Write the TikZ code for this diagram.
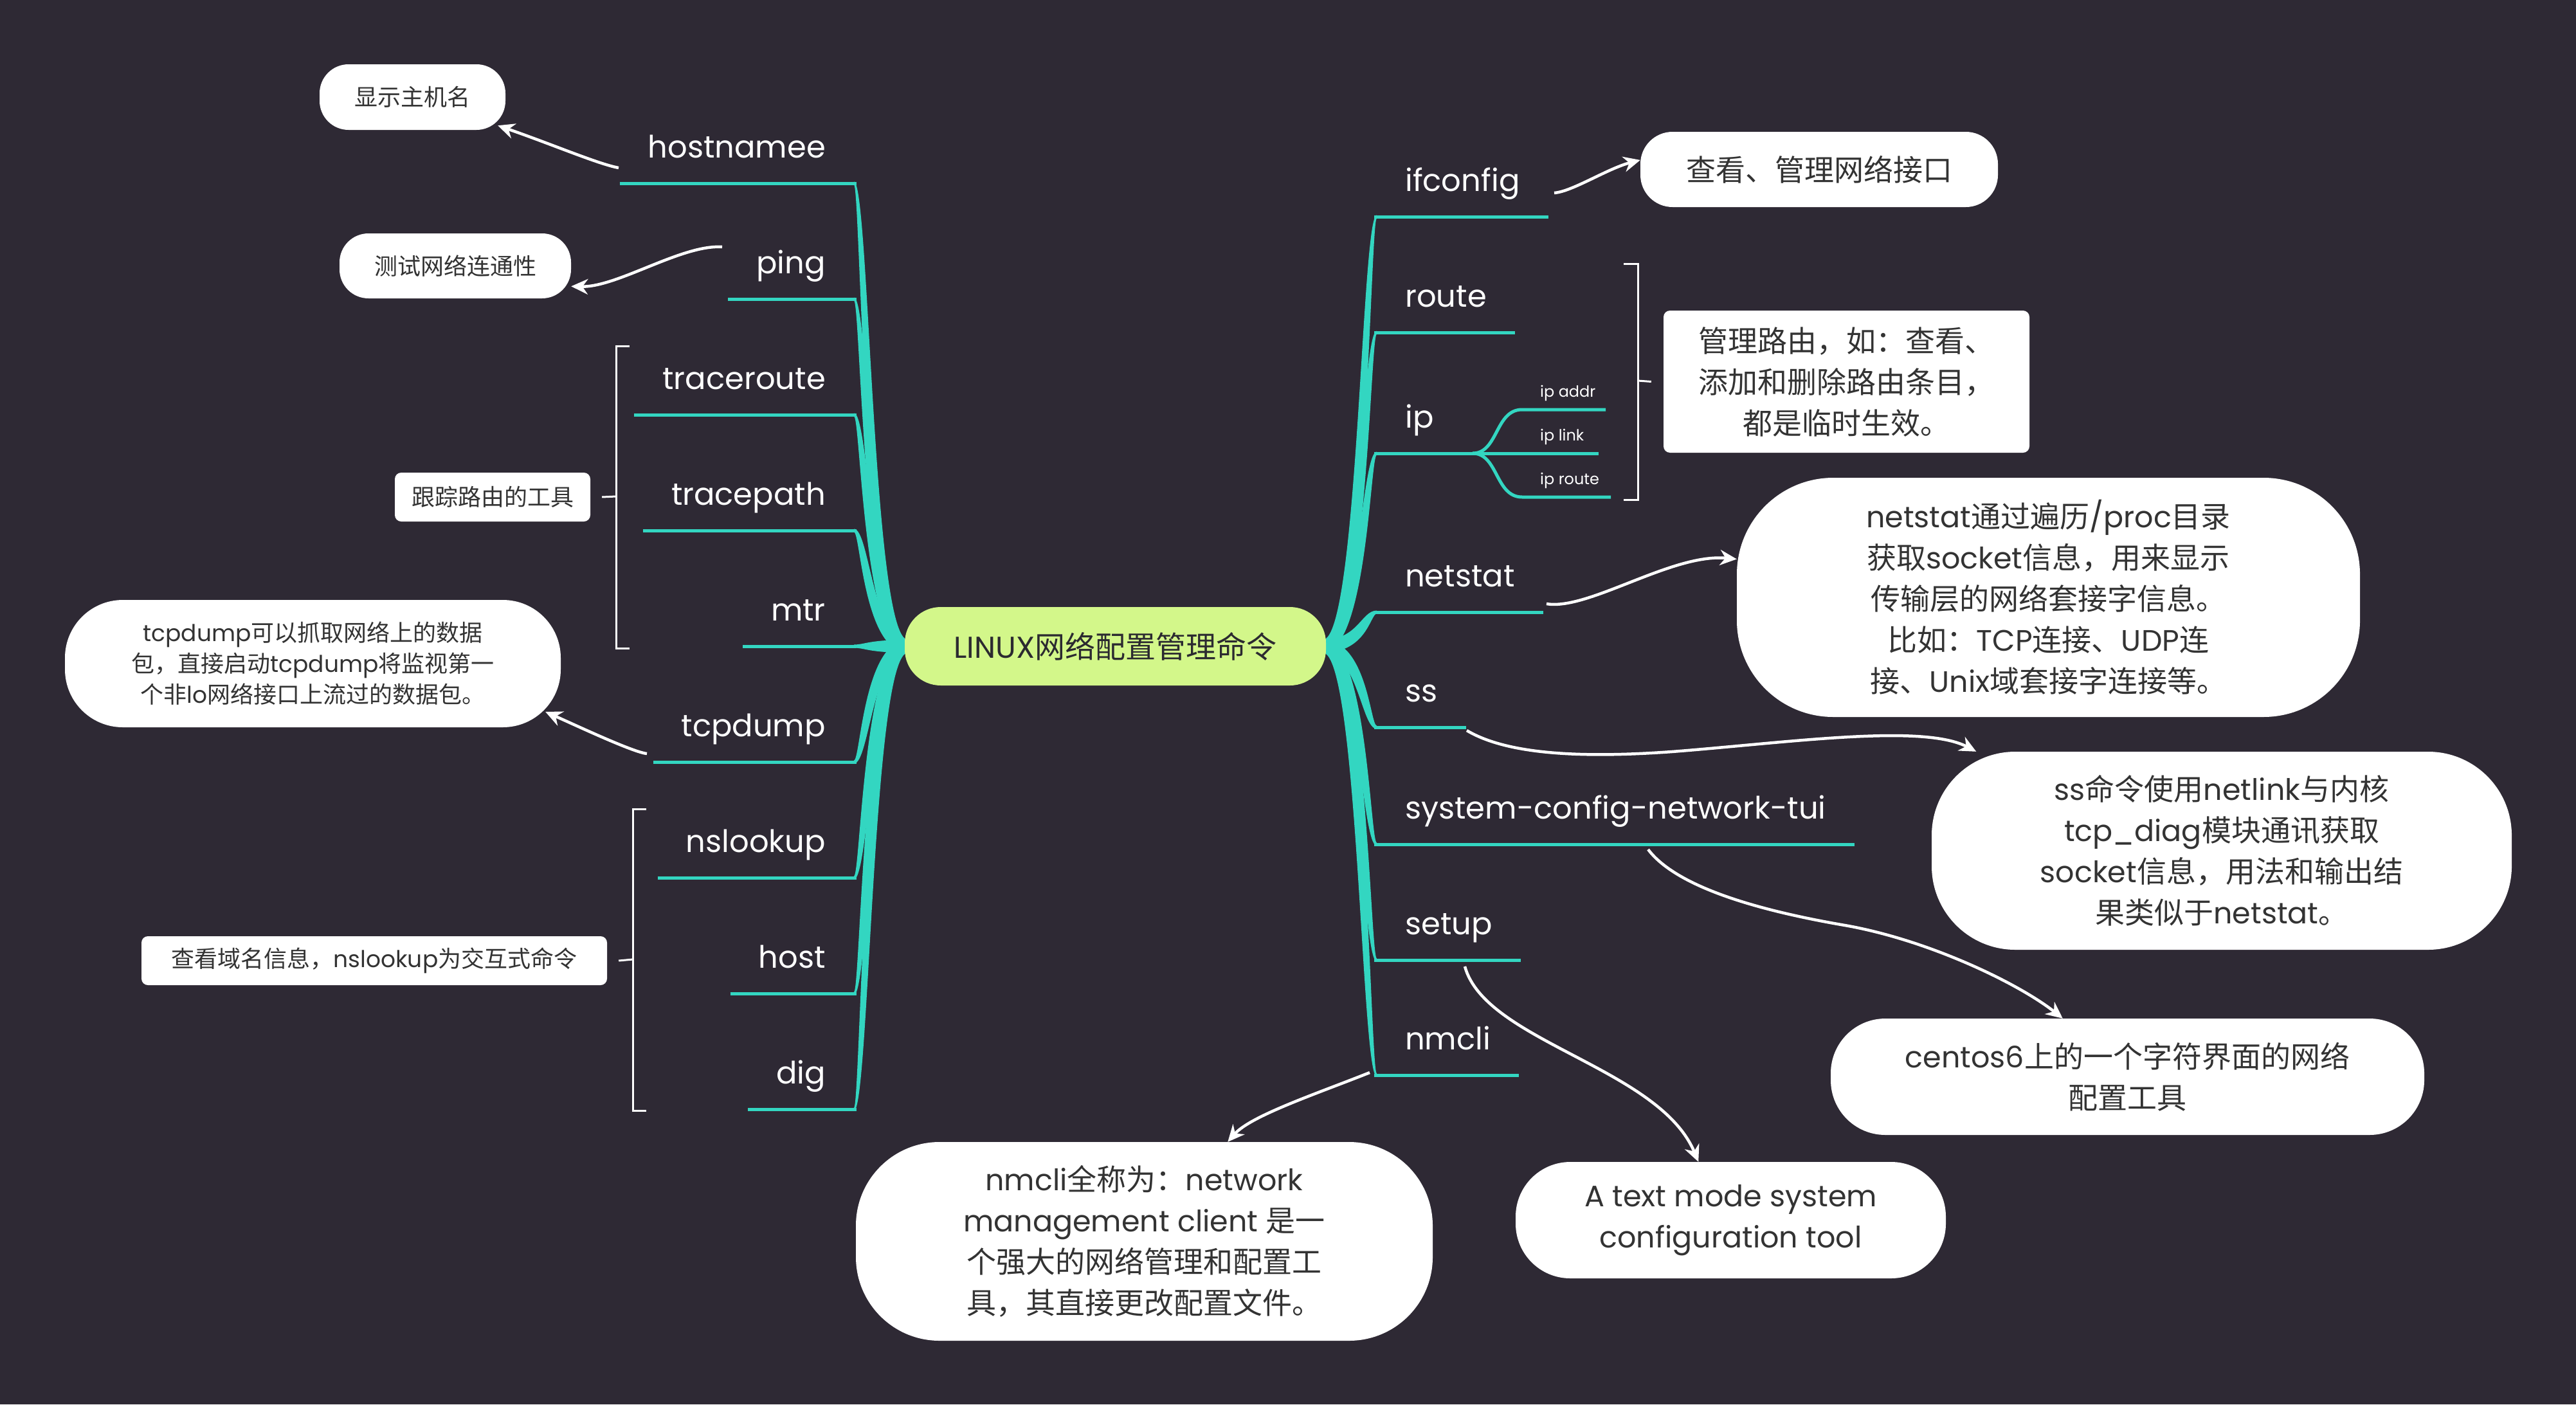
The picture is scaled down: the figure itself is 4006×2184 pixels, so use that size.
\documentclass[tikz,border=0pt]{standalone}
\usepackage{fontspec}
\setmainfont{Poppins}
\newfontfamily\cjk{Noto Sans CJK SC}
\newcommand\zh[1]{{\cjk #1}}
\usetikzlibrary{arrows.meta,calc}
\definecolor{bgdark}{HTML}{2E2934}
\definecolor{branchteal}{HTML}{33D6C1}
\definecolor{rootgreen}{HTML}{D3F78A}
\definecolor{roottext}{HTML}{2B2A30}
\definecolor{notetext}{HTML}{333333}

\begin{document}
\begin{tikzpicture}[x=1pt, y=-1pt, >={Stealth[length=26pt, width=24pt]},
  branch/.style = {fill=branchteal},
  stem/.style = {draw=branchteal, line width=5pt},
  cmd/.style = {text=white, inner sep=0pt, font=\fontsize{48}{58}\selectfont},
  subcmd/.style = {text=white, inner sep=0pt, font=\fontsize{24}{30}\selectfont},
  root/.style = {fill=rootgreen, text=roottext, rounded corners=56pt, minimum width=655pt, minimum height=122pt, inner sep=0pt, font=\fontsize{47}{54}\selectfont},
  note/.style n args = {3}{fill=white, text=notetext, align=center, inner sep=0pt, minimum width=#1pt, minimum height=#2pt, rounded corners=#3pt},
  smalltext/.style = {font=\fontsize{36}{48}\selectfont},
  bigtext/.style = {font=\fontsize{46}{64}\selectfont},
  pointer/.style = {->, draw=white, line width=4.5pt},
  bracket/.style = {draw=white, line width=3pt}]
\fill[bgdark] (0,0) rectangle (4006,2184);
\useasboundingbox (0,0) rectangle (4006,2184);

% left branches
\foreach \y/\d/\name/\txt in {285/7/hostnamee/hostnamee, 465/7/ping/ping, 645/7/traceroute/traceroute, 825/7/tracepath/tracepath, 1005/0/mtr/mtr, 1185/-7/tcpdump/tcpdump, 1365/-7/nslookup/nslookup, 1545/-7/host/host, 1725/-7/dig/dig}{
  \node[cmd, anchor=base east] (\name) at (1284,\y-40) {\txt};
  \draw[stem] ($(\name.base west)+(-44,40)$) -- (1332,\y);
  \fill[branch] (1328,\y-2.5) .. controls (1345+\d,\y-2.5) and (1350+\d,995) .. (1412,995) -- (1412,1015) .. controls (1350-\d,1015) and (1345-\d,\y+2.5) .. (1328,\y+2.5) -- cycle;
}

% right branches
\foreach \y/\d/\name/\txt in {337/-7/ifconfig/ifconfig, 517/-7/route/route, 705/-7/ip/ip, 952/-7/netstat/netstat, 1131/7/ss/ss, 1313/7/sysconfig/system-config-network-tui, 1493/7/setup/setup, 1672/7/nmcli/nmcli}{
  \node[cmd, anchor=base west] (\name) at (2185,\y-40) {\txt};
  \draw[stem] (2137,\y) -- ($(\name.base east)+(44,40)$);
  \fill[branch] (2141,\y-2.5) .. controls (2124+\d,\y-2.5) and (2119+\d,995) .. (2057,995) -- (2057,1015) .. controls (2119-\d,1015) and (2124-\d,\y+2.5) .. (2141,\y+2.5) -- cycle;
}

% ip sub-branches
\coordinate (ipfork) at (2290,705);
\node[subcmd, anchor=base west] (ipaddr) at (2395,617) {ip addr};
\node[subcmd, anchor=base west] (iplink) at (2395,685) {ip link};
\node[subcmd, anchor=base west] (iproute) at (2395,753) {ip route};
\draw[stem] (2240,705) -- (ipfork) -- (2486,705);
\draw[stem] (ipfork) .. controls (2330,705) and (2325,637) .. (2367,637) -- (2497,637);
\draw[stem] (ipfork) .. controls (2330,705) and (2325,773) .. (2367,773) -- (2505,773);

\node[root] (root) at (1734.5,1005) {LINUX\zh{网络配置管理命令}};

% notes, left
\node[note={289}{102}{45}, smalltext] (hnnote) at (641.5,151) {\zh{显示主机名}};
\node[note={360}{101}{45}, smalltext] (pingnote) at (708,413.5) {\zh{测试网络连通性}};
\node[note={304}{76}{10}, smalltext] (tracenote) at (766,773) {\zh{跟踪路由的工具}};
\node[note={771}{198}{90}, smalltext] (tcpnote) at (486.5,1032) {tcpdump\zh{可以抓取网络上的数据}\\\zh{包，直接启动}tcpdump\zh{将监视第一}\\\zh{个非}lo\zh{网络接口上流过的数据包。}};
\node[note={724}{76}{10}, smalltext] (dnsnote) at (582,1494) {\zh{查看域名信息，}nslookup\zh{为交互式命令}};

% notes, right
\node[note={556}{117}{50}, bigtext] (ifnote) at (2829,263.5) {\zh{查看、管理网络接口}};
\node[note={569}{221}{10}, bigtext] (routenote) at (2871.5,593.5) {\zh{管理路由，如：查看、}\\\zh{添加和删除路由条目，}\\\zh{都是临时生效。}};
\node[note={969}{372}{150}, bigtext] (netnote) at (3185.5,929) {netstat\zh{通过遍历}/proc\zh{目录}\\\zh{获取}socket\zh{信息，用来显示}\\\zh{传输层的网络套接字信息。}\\\zh{比如：}TCP\zh{连接、}UDP\zh{连}\\\zh{接、}Unix\zh{域套接字连接等。}};
\node[note={902}{308}{130}, bigtext] (ssnote) at (3455,1323) {ss\zh{命令使用}netlink\zh{与内核}\\tcp\_diag\zh{模块通讯获取}\\socket\zh{信息，用法和输出结}\\\zh{果类似于}netstat\zh{。}};
\node[note={923}{181}{85}, bigtext] (centosnote) at (3308.5,1674.5) {centos6\zh{上的一个字符界面的网络}\\\zh{配置工具}};
\node[note={669}{181}{85}, bigtext] (tuinote) at (2691.5,1897.5) {A text mode system\\configuration tool};
\node[note={897}{309}{130}, bigtext] (nmnote) at (1779.5,1930.5) {nmcli\zh{全称为：}network\\management client \zh{是一}\\\zh{个强大的网络管理和配置工}\\\zh{具，其直接更改配置文件。}};

% brackets
\draw[bracket] (979,538) -- (958,538) -- (958,1008) -- (979,1008);
\draw[bracket] (958,772) -- ([xshift=18pt]tracenote.east);
\draw[bracket] (1005,1258) -- (984,1258) -- (984,1727) -- (1005,1727);
\draw[bracket] (984,1492) -- ([xshift=18pt]dnsnote.east);
\draw[bracket] (2525,410) -- (2547,410) -- (2547,777) -- (2525,777);
\draw[bracket] (2547,592) -- ([xshift=-19pt]routenote.west);

% arrows
\coordinate (hostnamee-out) at (962,261);
\coordinate (ping-out) at (1123,384);
\coordinate (tcpdump-out) at (1006,1172);
\coordinate (ifconfig-out) at (2417,300);
\coordinate (netstat-out) at (2405,939);
\coordinate (ss-out) at (2281,1136);
\coordinate (sysconfig-out) at (2563,1321);
\coordinate (setup-out) at (2278,1503);
\coordinate (nmcli-out) at (2130,1668);
\draw[pointer] (hostnamee-out) .. controls (930,255) and (860,225) .. ([xshift=-12pt]hnnote.-17);
\draw[pointer] (ping-out) .. controls (1060,380) and (960,447) .. (pingnote.-10);
\draw[pointer] (tcpdump-out) .. controls (985,1170) and (900,1130) .. ([xshift=-24pt]tcpnote.-11);
\draw[pointer] (ifconfig-out) .. controls (2445,298) and (2500,262) .. (ifnote.177);
\draw[pointer] (netstat-out) .. controls (2470,950) and (2600,860) .. (netnote.173);
\draw[pointer] (ss-out) .. controls (2330,1165) and (2420,1182) .. (2600,1169) .. controls (2780,1155) and (2990,1125) .. (ssnote.158);
\draw[pointer] (sysconfig-out) .. controls (2600,1370) and (2700,1410) .. (2869,1439) .. controls (3000,1462) and (3140,1530) .. (centosnote.138);
\draw[pointer] (setup-out) .. controls (2310,1620) and (2580,1660) .. (tuinote.119);
\draw[pointer] (nmcli-out) .. controls (2050,1700) and (1945,1735) .. (nmnote.50);
\end{tikzpicture}
\end{document}
